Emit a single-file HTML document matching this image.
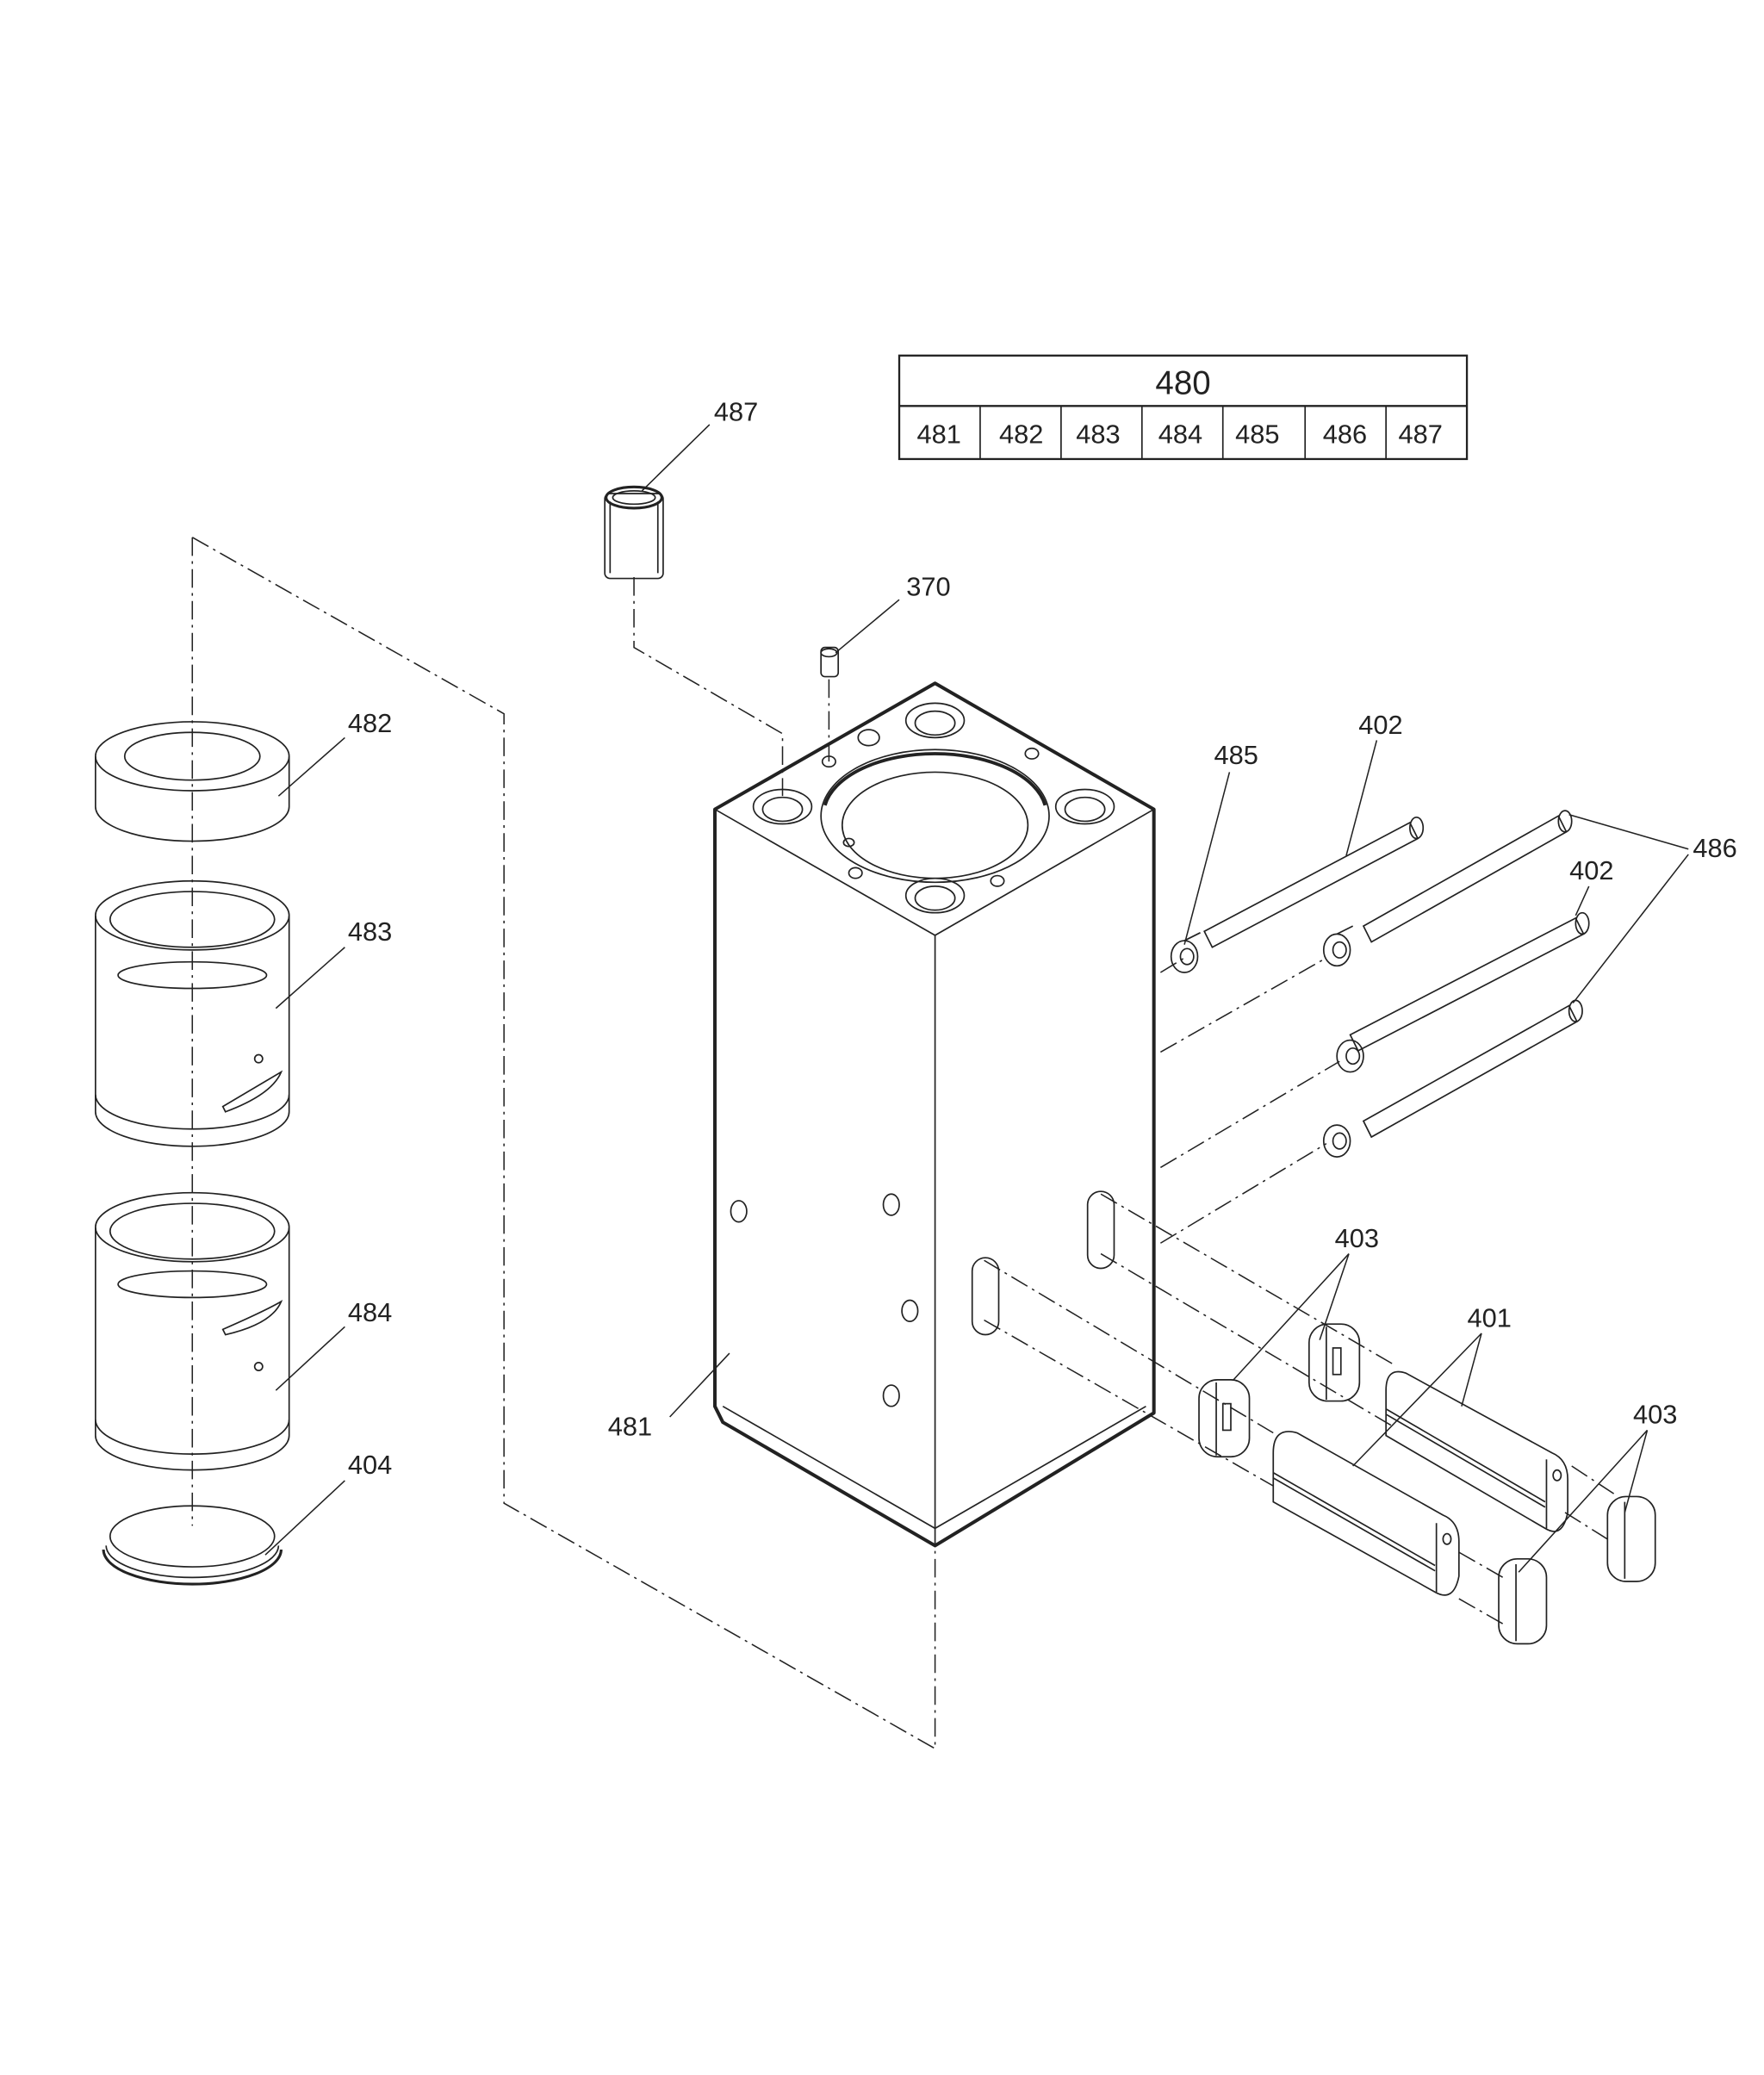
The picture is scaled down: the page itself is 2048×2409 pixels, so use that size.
<!DOCTYPE html>
<html><head><meta charset="utf-8"><style>
html,body{margin:0;padding:0;background:#fff}
svg{display:block}
text{font-family:"Liberation Sans",sans-serif;fill:#222}
</style></head><body>
<svg width="2048" height="2409" viewBox="0 0 1330 1564" preserveAspectRatio="none" xmlns="http://www.w3.org/2000/svg">
<g fill="none" stroke="#222" stroke-width="1.1">
<!-- table -->
<rect x="678" y="268" width="428" height="78" stroke-width="1.5"/>
<line x1="678" y1="306" x2="1106" y2="306" stroke-width="1.5"/>
<line x1="739" y1="306" x2="739" y2="346"/><line x1="800" y1="306" x2="800" y2="346"/>
<line x1="861" y1="306" x2="861" y2="346"/><line x1="922" y1="306" x2="922" y2="346"/>
<line x1="984" y1="306" x2="984" y2="346"/><line x1="1045" y1="306" x2="1045" y2="346"/>

<!-- dash-dot lines -->
<g stroke-dasharray="14,4,2,4" stroke-width="1">
<polyline points="145,405 380,538 380,1133 705,1318 705,1165"/>
<line x1="145" y1="405" x2="145" y2="1150"/>
<polyline points="478,435 478,488 590,553 590,600"/>
<line x1="625" y1="512" x2="625" y2="575"/>
<line x1="875" y1="733" x2="893" y2="722"/>
<line x1="875" y1="793" x2="1000" y2="722"/>
<line x1="875" y1="880" x2="1010" y2="800"/>
<line x1="875" y1="937" x2="1000" y2="862"/>
<line x1="830" y1="900" x2="1050" y2="1028"/>
<line x1="830" y1="945" x2="1050" y2="1075"/>
<line x1="742" y1="950" x2="960" y2="1080"/>
<line x1="742" y1="995" x2="960" y2="1120"/>
<line x1="1185" y1="1105" x2="1220" y2="1128"/>
<line x1="1180" y1="1140" x2="1215" y2="1162"/>
<line x1="1100" y1="1170" x2="1135" y2="1190"/>
<line x1="1100" y1="1205" x2="1135" y2="1225"/>
</g>

<!-- main block -->
<g stroke-width="2.6" stroke-linejoin="round">
<polygon points="539,610 705,515 870,610 870,1065 705,1165 545,1072 539,1060"/>
</g>
<polyline points="539,610 705,705 870,610"/>
<line x1="705" y1="705" x2="705" y2="1165"/>
<polyline points="545,1060 705,1152 864,1060"/>
<!-- top face features -->
<ellipse cx="705" cy="615" rx="86" ry="50"/>
<ellipse cx="705" cy="622" rx="70" ry="40"/>
<path d="M622,607 A84,46 0 0 1 788,607" stroke-width="2.5"/>
<ellipse cx="590" cy="608" rx="22" ry="13"/><ellipse cx="590" cy="610" rx="15" ry="9"/>
<ellipse cx="705" cy="543" rx="22" ry="13"/><ellipse cx="705" cy="545" rx="15" ry="9"/>
<ellipse cx="818" cy="608" rx="22" ry="13"/><ellipse cx="818" cy="610" rx="15" ry="9"/>
<ellipse cx="705" cy="675" rx="22" ry="13"/><ellipse cx="705" cy="677" rx="15" ry="9"/>
<ellipse cx="655" cy="556" rx="8" ry="6"/><ellipse cx="625" cy="574" rx="5" ry="4"/>
<ellipse cx="778" cy="568" rx="5" ry="4"/><ellipse cx="752" cy="664" rx="5" ry="4"/>
<ellipse cx="645" cy="658" rx="5" ry="4"/><ellipse cx="640" cy="635" rx="4" ry="3"/>
<!-- side holes -->
<ellipse cx="557" cy="913" rx="6" ry="8"/><ellipse cx="672" cy="908" rx="6" ry="8"/>
<ellipse cx="686" cy="988" rx="6" ry="8"/><ellipse cx="672" cy="1052" rx="6" ry="8"/>
<rect x="820" y="898" width="20" height="58" rx="10"/>
<rect x="733" y="948" width="20" height="58" rx="10"/>

<!-- 487 tube -->
<rect x="456" y="372" width="44" height="64" rx="4"/>
<ellipse cx="478" cy="375" rx="21" ry="8" stroke-width="2"/>
<ellipse cx="478" cy="375" rx="16" ry="5"/>
<line x1="460" y1="378" x2="460" y2="432"/><line x1="496" y1="378" x2="496" y2="432"/>
<!-- 370 pin -->
<rect x="619" y="488" width="13" height="22" rx="3"/>
<ellipse cx="625" cy="492" rx="6" ry="3"/>

<!-- 482 ring -->
<ellipse cx="145" cy="570" rx="73" ry="26"/>
<ellipse cx="145" cy="570" rx="51" ry="18"/>
<path d="M72,570 L72,608 A73,26 0 0 0 218,608 L218,570"/>
<!-- 483 -->
<ellipse cx="145" cy="690" rx="73" ry="26"/>
<ellipse cx="145" cy="693" rx="62" ry="21"/>
<ellipse cx="145" cy="735" rx="56" ry="10"/>
<path d="M72,690 L72,838 A73,26 0 0 0 218,838 L218,690"/>
<path d="M72,825 A73,26 0 0 0 218,825"/>
<ellipse cx="195" cy="798" rx="3" ry="3"/>
<path d="M168,834 Q200,815 212,808 Q205,825 170,838 Z"/>
<!-- 484 -->
<ellipse cx="145" cy="925" rx="73" ry="26"/>
<ellipse cx="145" cy="928" rx="62" ry="21"/>
<ellipse cx="145" cy="968" rx="56" ry="10"/>
<path d="M72,925 L72,1082 A73,26 0 0 0 218,1082 L218,925"/>
<path d="M72,1070 A73,26 0 0 0 218,1070"/>
<path d="M168,1002 Q200,988 212,981 Q205,998 170,1006 Z"/>
<ellipse cx="195" cy="1030" rx="3" ry="3"/>
<!-- 404 -->
<ellipse cx="145" cy="1158" rx="62" ry="23"/>
<path d="M80,1165 A65,24 0 0 0 210,1165"/>
<path d="M78,1168 A67,26 0 0 0 212,1168" stroke-width="2"/>

<!-- rods -->
<g>
<polygon points="908,702 1063,620 1069,632 914,714"/>
<polygon points="1028,698 1175,615 1181,627 1034,710"/>
<polygon points="1018,780 1188,692 1194,704 1024,792"/>
<polygon points="1028,845 1183,758 1189,770 1034,857"/>
<ellipse cx="1068" cy="624" rx="5" ry="8"/><ellipse cx="1180" cy="619" rx="5" ry="8"/>
<ellipse cx="1193" cy="696" rx="5" ry="8"/><ellipse cx="1188" cy="762" rx="5" ry="8"/>
<ellipse cx="893" cy="721" rx="10" ry="12"/><ellipse cx="895" cy="721" rx="5" ry="6"/>
<ellipse cx="1008" cy="716" rx="10" ry="12"/><ellipse cx="1010" cy="716" rx="5" ry="6"/>
<ellipse cx="1018" cy="796" rx="10" ry="12"/><ellipse cx="1020" cy="796" rx="5" ry="6"/>
<ellipse cx="1008" cy="860" rx="10" ry="12"/><ellipse cx="1010" cy="860" rx="5" ry="6"/>
<line x1="893" y1="709" x2="905" y2="703"/><line x1="1008" y1="704" x2="1020" y2="698"/>
</g>

<!-- 403 pieces -->
<rect x="987" y="998" width="38" height="58" rx="14"/><line x1="1000" y1="1000" x2="1000" y2="1055"/>
<rect x="1005" y="1016" width="6" height="20"/>
<rect x="904" y="1040" width="38" height="58" rx="14"/><line x1="917" y1="1042" x2="917" y2="1097"/>
<rect x="922" y="1058" width="6" height="20"/>
<rect x="1212" y="1128" width="36" height="64" rx="14"/><line x1="1225" y1="1132" x2="1225" y2="1190"/>
<rect x="1130" y="1175" width="36" height="64" rx="14"/><line x1="1143" y1="1179" x2="1143" y2="1237"/>
<!-- 401 pins -->
<path d="M1045,1048 Q1045,1030 1060,1035 L1170,1095 Q1182,1100 1182,1115 L1182,1140 Q1178,1160 1165,1152 L1045,1082 Z"/>
<line x1="1045" y1="1062" x2="1165" y2="1132"/><line x1="1045" y1="1066" x2="1165" y2="1136"/>
<line x1="1166" y1="1100" x2="1166" y2="1152"/>
<ellipse cx="1174" cy="1112" rx="3" ry="4"/>
<path d="M960,1095 Q960,1075 978,1080 L1088,1142 Q1100,1147 1100,1162 L1100,1188 Q1096,1208 1082,1200 L960,1132 Z"/>
<line x1="960" y1="1110" x2="1082" y2="1180"/><line x1="960" y1="1114" x2="1082" y2="1184"/>
<line x1="1083" y1="1148" x2="1083" y2="1200"/>
<ellipse cx="1091" cy="1160" rx="3" ry="4"/>

<!-- leaders -->
<g stroke-width="1">
<line x1="535" y1="320" x2="484" y2="370"/>
<line x1="678" y1="452" x2="630" y2="492"/>
<line x1="260" y1="556" x2="210" y2="600"/>
<line x1="260" y1="714" x2="208" y2="760"/>
<line x1="260" y1="1000" x2="208" y2="1048"/>
<line x1="260" y1="1116" x2="200" y2="1172"/>
<line x1="505" y1="1068" x2="550" y2="1020"/>
<line x1="927" y1="582" x2="893" y2="712"/>
<line x1="1038" y1="558" x2="1015" y2="645"/>
<line x1="1198" y1="668" x2="1188" y2="690"/>
<line x1="1273" y1="640" x2="1183" y2="614"/>
<line x1="1273" y1="644" x2="1186" y2="756"/>
<line x1="1017" y1="945" x2="930" y2="1040"/>
<line x1="1017" y1="945" x2="995" y2="1010"/>
<line x1="1117" y1="1005" x2="1020" y2="1105"/>
<line x1="1117" y1="1005" x2="1102" y2="1060"/>
<line x1="1242" y1="1078" x2="1145" y2="1185"/>
<line x1="1242" y1="1078" x2="1225" y2="1140"/>
</g>
</g>
<g font-size="20">
<text x="892" y="297" text-anchor="middle" font-size="25">480</text>
<text x="708" y="334" text-anchor="middle">481</text><text x="770" y="334" text-anchor="middle">482</text>
<text x="828" y="334" text-anchor="middle">483</text><text x="890" y="334" text-anchor="middle">484</text>
<text x="948" y="334" text-anchor="middle">485</text><text x="1014" y="334" text-anchor="middle">486</text>
<text x="1071" y="334" text-anchor="middle">487</text>
<text x="555" y="317" text-anchor="middle">487</text>
<text x="700" y="449" text-anchor="middle">370</text>
<text x="279" y="552" text-anchor="middle">482</text>
<text x="279" y="709" text-anchor="middle">483</text>
<text x="279" y="996" text-anchor="middle">484</text>
<text x="279" y="1111" text-anchor="middle">404</text>
<text x="475" y="1082" text-anchor="middle">481</text>
<text x="932" y="576" text-anchor="middle">485</text>
<text x="1041" y="553" text-anchor="middle">402</text>
<text x="1200" y="663" text-anchor="middle">402</text>
<text x="1293" y="646" text-anchor="middle">486</text>
<text x="1023" y="940" text-anchor="middle">403</text>
<text x="1123" y="1000" text-anchor="middle">401</text>
<text x="1248" y="1073" text-anchor="middle">403</text>
</g>
</svg>
</body></html>
